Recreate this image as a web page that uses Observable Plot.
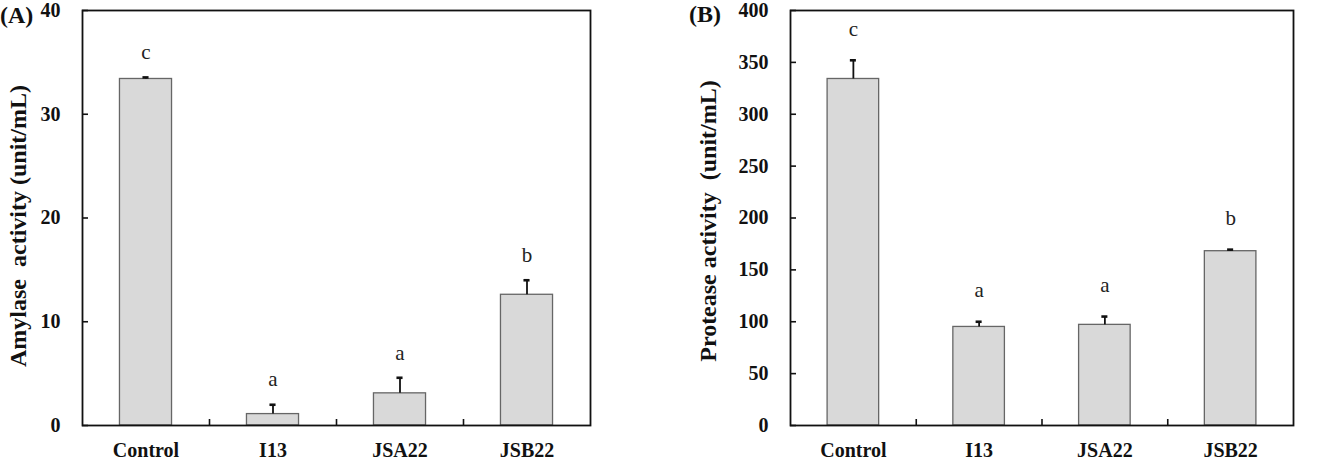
<!DOCTYPE html>
<html>
<head>
<meta charset="utf-8">
<script src="https://cdn.jsdelivr.net/npm/d3@7"></script>
<script src="https://cdn.jsdelivr.net/npm/@observablehq/plot@0.6"></script>
<style>
  html, body { margin: 0; padding: 0; background: #fff; }
  #wrap { position: relative; width: 1328px; height: 468px; overflow: hidden; }
  .panel { position: absolute; top: 0; }
  .tag { position: absolute; font-family: "Liberation Serif", serif; font-weight: bold; font-size: 24px; color: #111; line-height: 1; }
</style>
</head>
<body>
<div id="wrap">
  <div id="pA" class="panel" style="left:0px"></div>
  <div id="pB" class="panel" style="left:640px"></div>
  <div class="tag" style="left:0px; top:3px">(A)</div>
  <div class="tag" style="left:689px; top:2px">(B)</div>
</div>
<script>
const categories = ["Control", "I13", "JSA22", "JSB22"];

const amylase = [33.4, 1.1, 3.1, 12.6];
const amylaseErr = [0.15, 0.9, 1.5, 1.4];
const amylaseLetters = ["c", "a", "a", "b"];
const amylaseTicks = [0, 10, 20, 30, 40];

const protease = [334, 95, 97, 168];
const proteaseErr = [18, 5, 8, 1.5];
const proteaseLetters = ["c", "a", "a", "b"];
const proteaseTicks = [0, 50, 100, 150, 200, 250, 300, 350, 400];

function panel({values, errs, letters, ticks, ylabel, width, marginLeft, marginRight, letterDy, labelDx, labelDy}) {
  const data = categories.map((c, k) => ({i: k + 1, c, v: values[k], e: errs[k], l: letters[k]}));
  const half = 0.205;
  const capHalf = 0.024;
  return Plot.plot({
    width,
    height: 468,
    marginLeft,
    marginRight,
    marginTop: 10,
    marginBottom: 43,
    style: {fontFamily: "Liberation Serif, serif", fontSize: "20px", fontWeight: "bold", color: "#111", background: "#fff"},
    x: {domain: [0.5, 4.5]},
    y: {domain: [ticks[0], ticks[ticks.length - 1]]},
    marks: [
      Plot.rect(data, {x1: d => d.i - half, x2: d => d.i + half, y1: 0, y2: "v", fill: "#d9d9d9", stroke: "#666", strokeWidth: 1.3}),
      Plot.ruleX(data, {x: "i", y1: "v", y2: d => d.v + d.e, stroke: "#111", strokeWidth: 1.8}),
      Plot.ruleY(data, {y: d => d.v + d.e, x1: d => d.i - capHalf, x2: d => d.i + capHalf, stroke: "#111", strokeWidth: 2.6}),
      Plot.text(data, {x: "i", y: d => d.v + d.e, text: "l", dy: letterDy, fontWeight: "normal", fontSize: 21, fill: "#222"}),
      Plot.axisY({ticks, tickSize: -6, tickPadding: 28, strokeWidth: 1.6, label: null, fontSize: 20}),
      Plot.text([ylabel], {frameAnchor: "left", textAnchor: "middle", lineAnchor: "middle", rotate: -90, dx: labelDx, dy: labelDy, fontSize: 24, fontWeight: "bold", fill: "#111"}),
      Plot.axisX({ticks: [1, 2, 3, 4], tickFormat: i => categories[i - 1], tickSize: 0, tickPadding: 17, label: null, fontSize: 20}),
      Plot.axisX({ticks: [1.5, 2.5, 3.5], tickFormat: () => "", tickSize: -6, strokeWidth: 1.6, label: null}),
      Plot.frame({stroke: "#111", strokeWidth: 1.8})
    ]
  });
}

document.getElementById("pA").append(panel({
  values: amylase, errs: amylaseErr, letters: amylaseLetters, ticks: amylaseTicks,
  ylabel: "Amylase  activity (unit/mL)", width: 640, marginLeft: 82, marginRight: 50, letterDy: -25,
  labelDx: -64, labelDy: 8
}));
document.getElementById("pB").append(panel({
  values: protease, errs: proteaseErr, letters: proteaseLetters, ticks: proteaseTicks,
  ylabel: "Protease activity  (unit/mL)", width: 688, marginLeft: 150, marginRight: 35, letterDy: -31,
  labelDx: -82, labelDy: 3
}));
</script>
</body>
</html>
